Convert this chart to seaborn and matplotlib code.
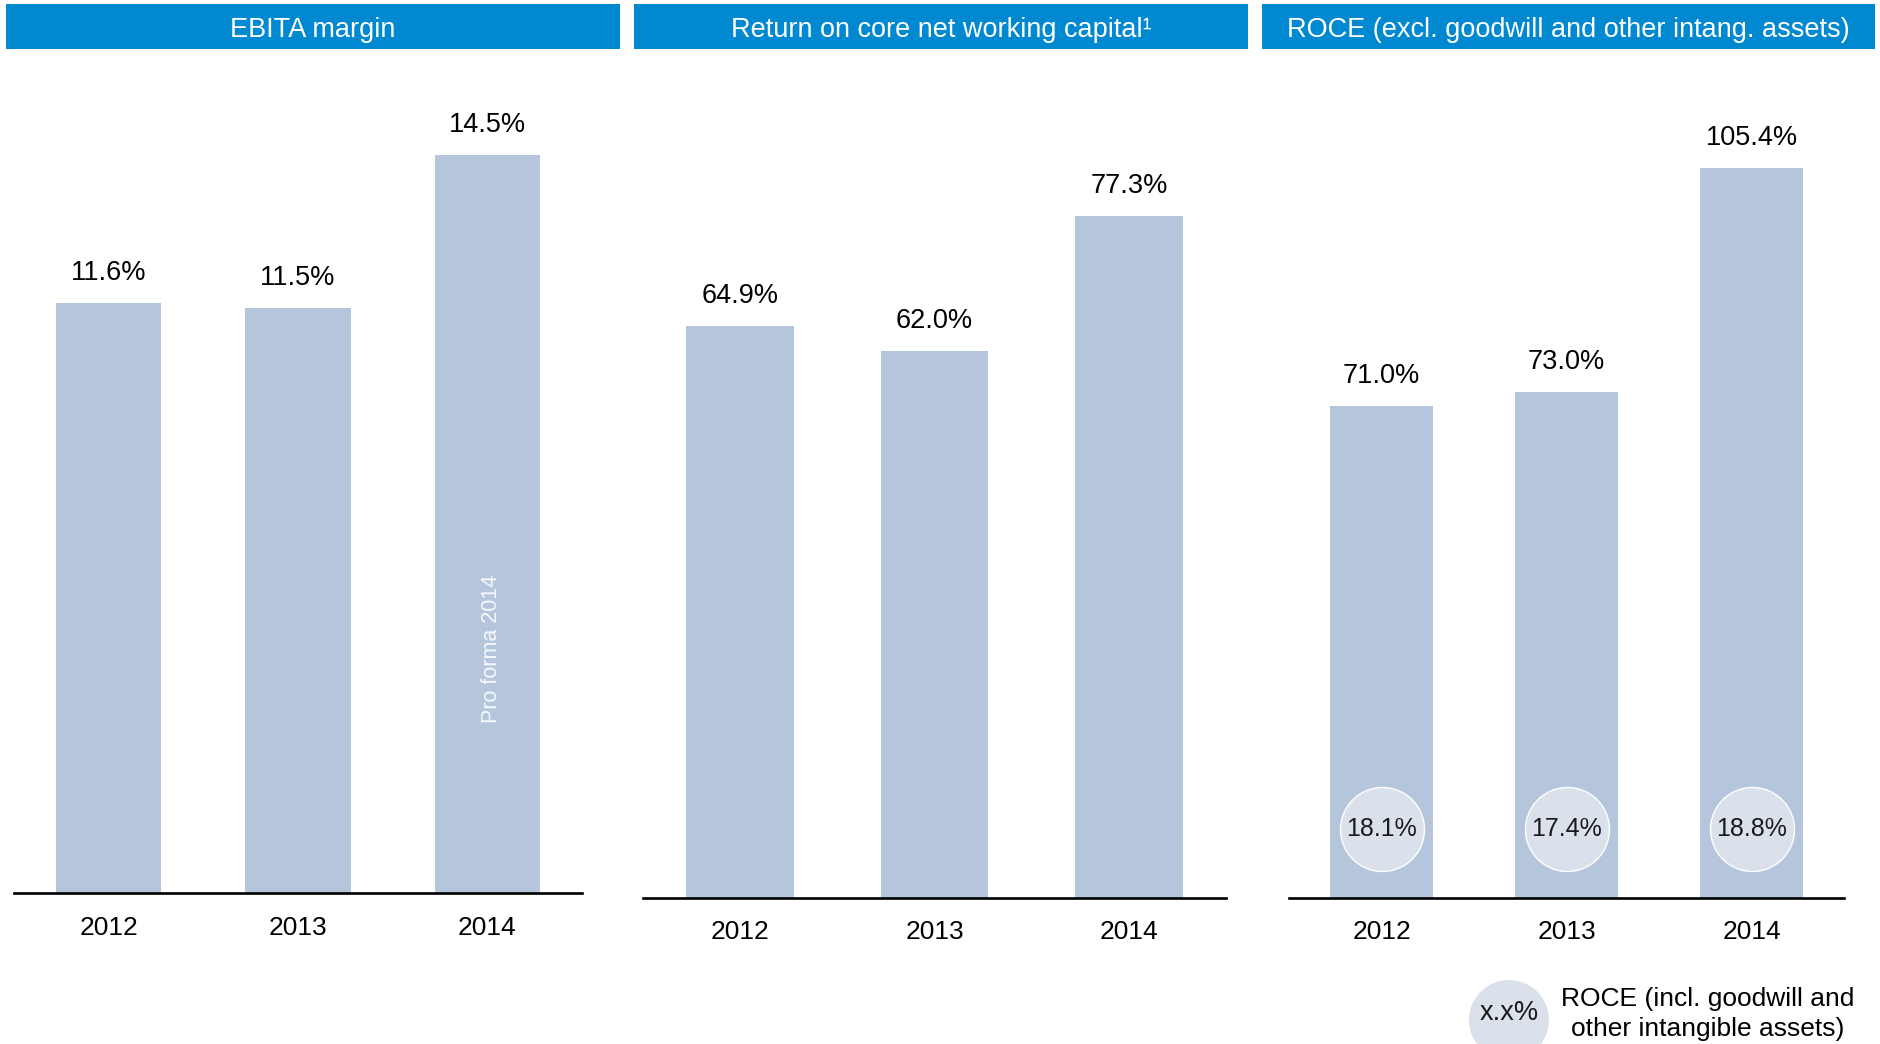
import matplotlib
matplotlib.use("Agg")
import matplotlib.pyplot as plt
import matplotlib.transforms as mtransforms
from matplotlib.patches import Rectangle, Ellipse
import seaborn as sns
import pandas as pd

# ---------------- data ----------------
years = ["2012", "2013", "2014"]
ebita_margin = [11.6, 11.5, 14.5]
return_core_nwc = [64.9, 62.0, 77.3]
roce_excl = [71.0, 73.0, 105.4]
roce_incl = [18.1, 17.4, 18.8]
titles = ["EBITA margin",
          "Return on core net working capital\u00b9",
          "ROCE (excl. goodwill and other intang. assets)"]
proforma_note = "Pro forma 2014"
legend_label = "x.x%"
legend_text = "ROCE (incl. goodwill and\nother intangible assets)"

# ---------------- style ----------------
sns.set_style("white")
plt.rcParams["font.family"] = ["Liberation Sans", "DejaVu Sans"]

W, H = 1881, 1044
DPI = 100
BAR = "#B4C5DC"
HEAD = "#0089D1"
CIRC = "#DAE1EA"

fig = plt.figure(figsize=(W / DPI, H / DPI), dpi=DPI)


def fx(px):
    return px / W


def fy(py):
    return 1 - py / H


# panel layout in pixels: (x_left, x_right, baseline_y, top_y, ymax)
panels = [
    (14, 582, 893, 100, 15.58, ebita_margin),
    (643, 1226, 897.5, 100, 90.5, return_core_nwc),
    (1289, 1844, 897.5, 100, 115.2, roce_excl),
]
headers = [(6, 620), (634, 1248), (1262, 1875)]

axes = []
for (xl, xr, yb, yt, ymax, vals) in panels:
    ax = fig.add_axes([fx(xl), fy(yb), fx(xr - xl), (yb - yt) / H])
    df = pd.DataFrame({"year": years, "value": vals})
    sns.barplot(data=df, x="year", y="value", ax=ax, color=BAR,
                saturation=1, width=0.555, edgecolor="none")
    ax.set_xlim(-0.5, 2.5)
    ax.set_ylim(0, ymax)
    for s in ["top", "left", "right"]:
        ax.spines[s].set_visible(False)
    ax.spines["bottom"].set_linewidth(1.9)
    ax.spines["bottom"].set_color("black")
    ax.set_yticks([])
    ax.set_xlabel("")
    ax.set_ylabel("")
    ax.tick_params(axis="x", length=0, pad=16.5, labelsize=19, labelcolor="black")
    for i, v in enumerate(vals):
        ax.annotate(f"{v:.1f}%", (i, v), xytext=(0, 21.6), textcoords="offset points",
                    ha="center", va="center", fontsize=19.5, color="black")
    axes.append(ax)

# Pro forma note inside 2014 bar of EBITA panel
ax0 = axes[0]
blend = mtransforms.blended_transform_factory(ax0.transData, ax0.transAxes)
nudge = mtransforms.ScaledTranslation(4 / DPI, 0, fig.dpi_scale_trans)
ax0.text(2, 0.308, proforma_note, transform=blend + nudge, rotation=90, ha="center",
         va="center", fontsize=15.5, color="white", alpha=0.9)

# ROCE incl. goodwill circles in ROCE panel
ax2 = axes[2]
shift = mtransforms.ScaledTranslation(0, 68.5 / DPI, fig.dpi_scale_trans)
xs = list(range(len(years)))
ax2.scatter(xs, [0] * len(xs), s=(84 * 0.72) ** 2, marker="o", color=CIRC,
            edgecolors="white", linewidths=1.0, transform=ax2.transData + shift,
            zorder=5, clip_on=False)
for i, v in enumerate(roce_incl):
    ax2.text(i, 0, f"{v:.1f}%", transform=ax2.transData + shift, ha="center",
             va="center", fontsize=18, color="#1a1a1a", zorder=6)

# headers
for (x0, x1), t in zip(headers, titles):
    fig.add_artist(Rectangle((fx(x0), fy(49)), fx(x1 - x0), 45 / H,
                             transform=fig.transFigure, facecolor=HEAD,
                             edgecolor="none"))
    fig.text(fx((x0 + x1) / 2), fy(30), t, ha="center", va="center",
             fontsize=19.5, color="white")

# legend
fig.add_artist(Ellipse((fx(1509), fy(1020)), fx(80), 80 / H,
                       transform=fig.transFigure, facecolor=CIRC,
                       edgecolor="none"))
fig.text(fx(1509), fy(1013), legend_label, ha="center", va="center",
         fontsize=19.5, color="#1a1a1a")
fig.text(fx(1708), fy(1014), legend_text, ha="center", va="center",
         fontsize=19, color="black", linespacing=1.3)

fig.savefig("out.png", dpi=DPI)
